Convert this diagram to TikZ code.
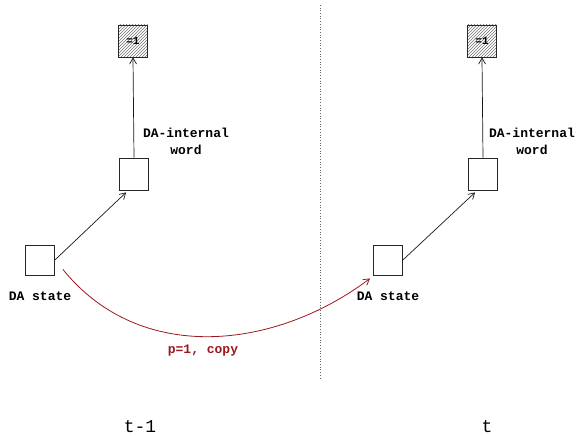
\documentclass[tikz,border=0pt]{standalone}
\usepackage{fontspec}
\setmonofont{Liberation Mono}
\usepackage{xcolor}
\usetikzlibrary{arrows.meta, positioning, patterns}
\definecolor{copyred}{RGB}{155,25,30}
\tikzset{
	cell/.style={rectangle, draw=black!85, line width=0.8pt, minimum width=29pt, minimum height=30pt, inner sep=0pt, fill=white},
	fixed/.style={cell, pattern=north east lines, pattern color=black!55},
	lbl/.style={font=\fontsize{13}{17}\ttfamily\bfseries, align=center, inner sep=1pt},
	line/.style={draw=black!90, line width=0.7pt, -{Straight Barb[length=6pt, width=7pt]}},
	copy/.style={draw=copyred, line width=0.8pt, -{Straight Barb[length=6pt, width=7pt]}}
}

\begin{document}
\begin{tikzpicture}[x=1pt, y=-1pt]
	\useasboundingbox (0,0) rectangle (582,436);

	% time slice divider
	\draw[black!60, dotted, line width=0.7pt] (320,5) -- (320,378);

	% slice t-1
	\node[cell] (dsA) at (40,260) {};
	\node[cell, minimum height=32pt] (wA) at (134,174) {};
	\node[fixed, minimum height=32pt] (oneA) at (133,41) {\fontsize{11}{12}\ttfamily\bfseries =1};
	\node[lbl, below=15pt of dsA] (dsAlbl) {DA state};
	\node[lbl] (wAlbl) at (186,141) {DA-internal\\word};
	\path[line] (dsA.east) -- ([xshift=7pt,yshift=-2pt]wA.south west);
	\path[line] (wA.north) -- (oneA.south);

	% slice t
	\node[cell] (dsB) at (388,260) {};
	\node[cell, minimum height=32pt] (wB) at (483,174) {};
	\node[fixed, minimum height=32pt] (oneB) at (482,41) {\fontsize{11}{12}\ttfamily\bfseries =1};
	\node[lbl, below=15pt of dsB] (dsBlbl) {DA state};
	\node[lbl] (wBlbl) at (532,141) {DA-internal\\word};
	\path[line] (dsB.east) -- ([xshift=7pt,yshift=-2pt]wB.south west);
	\path[line] (wB.north) -- (oneB.south);

	% state is carried over between slices
	\coordinate (cpyA) at ([shift={(8,-6)}]dsA.south east);
	\path[copy] (cpyA) .. controls (140,365) and (275,350) .. ([xshift=-3pt,yshift=-3pt]dsB.south west);
	\node[lbl, text=copyred] (cpylbl) at (203,351) {p=1, copy};

	% slice names
	\node[font=\fontsize{18}{20}\ttfamily] (tA) at (140,427) {t-1};
	\node[font=\fontsize{18}{20}\ttfamily] (tB) at (487,427) {t};
\end{tikzpicture}
\end{document}
